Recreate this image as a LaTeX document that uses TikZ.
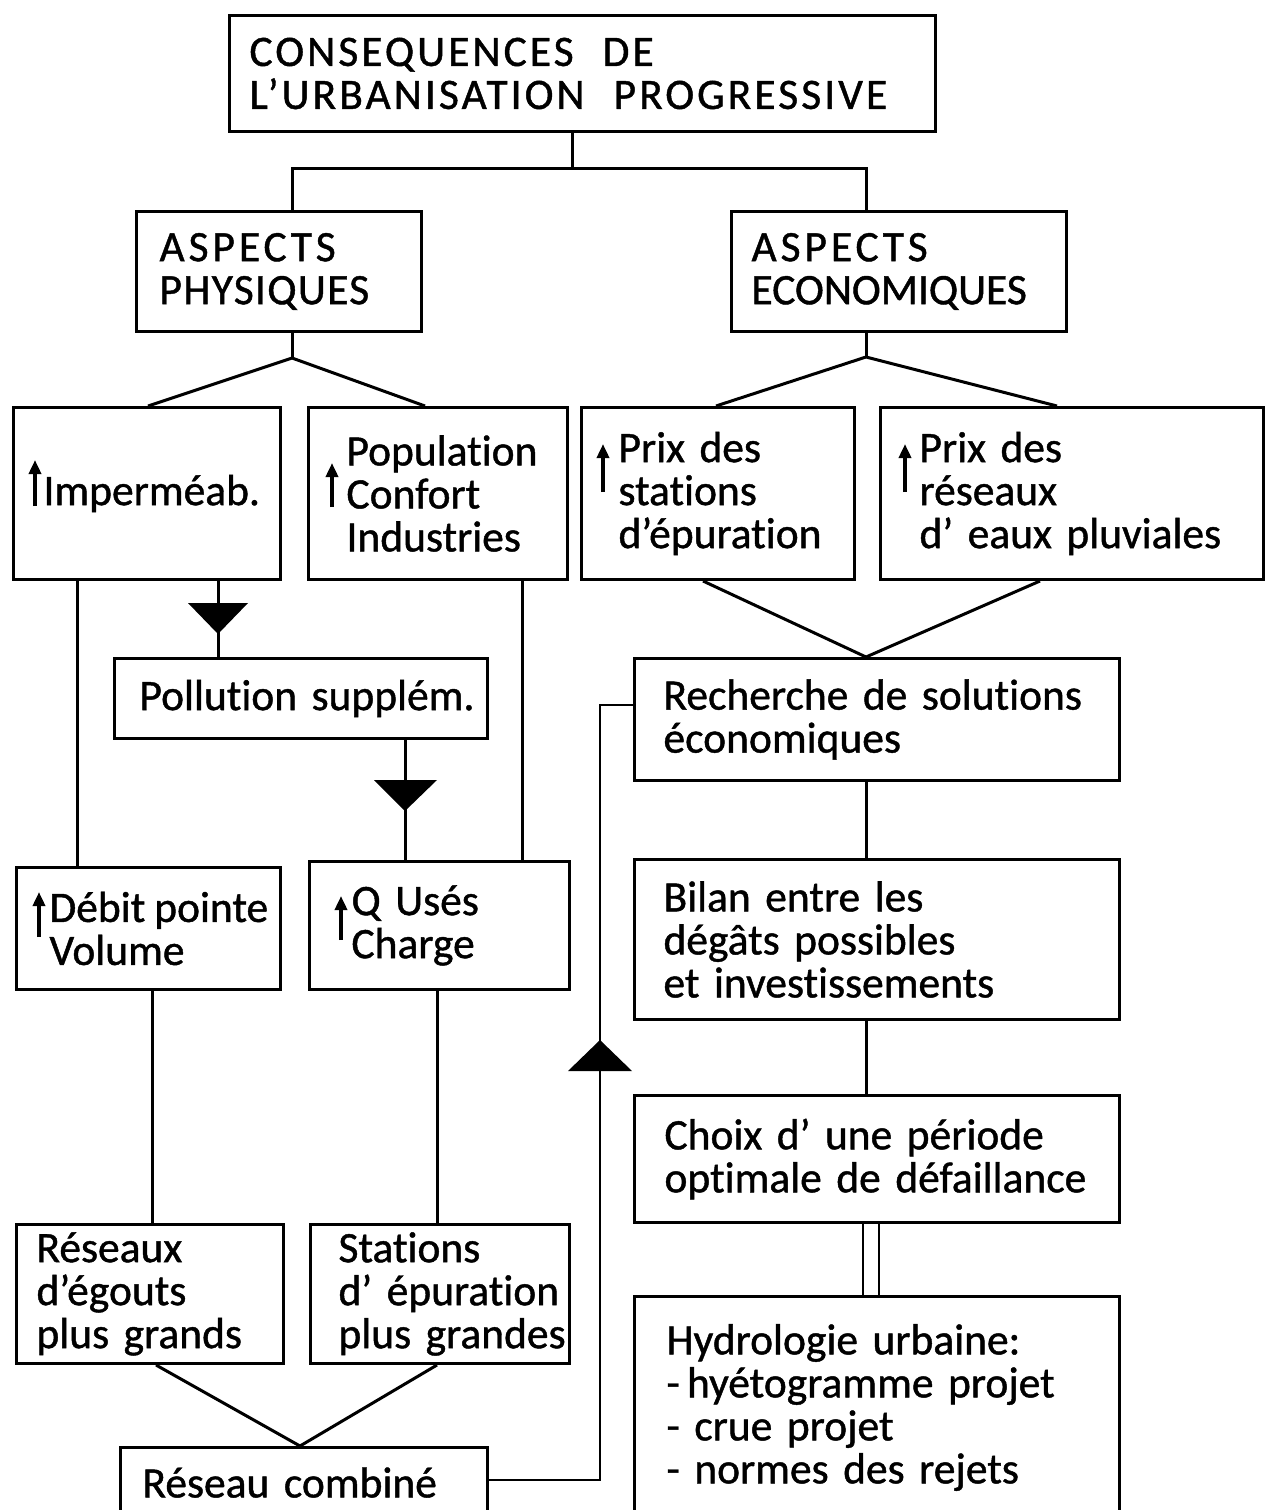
\documentclass[tikz,border=0pt]{standalone}
\usepackage{fontspec}
\setmainfont{Carlito}[WordSpace=1.4,FakeBold=1,Ligatures=NoCommon]
\usetikzlibrary{arrows.meta,calc}
\newcommand\padL[1]{\leftskip=#1pt\relax}
\begin{document}
\begin{tikzpicture}[x=1pt,y=-1pt,
  box/.style={draw, line width=3pt, anchor=north west, inner sep=0pt, align=left,
              font=\fontsize{43.5}{43}\selectfont},
  conn/.style={line width=3pt},
  upmark/.style={line width=4pt, -{Triangle[length=14pt,width=12pt]}},
  tri/.style={fill=black}]
\clip (0,0) rectangle (1271,1510);
\fill[white] (0,0) rectangle (1271,1510);

% boxes
\node[box, text width=706pt, minimum height=116pt] (top) at (228,14)
  {\padL{20}\addfontfeatures{LetterSpace=7}CONSEQUENCES~~DE\\L’URBANISATION~~PROGRESSIVE\par};
\node[box, text width=285pt, minimum height=120pt] (phys) at (135,210)
  {\padL{23}{\addfontfeatures{LetterSpace=9}ASPECTS}\\{\addfontfeatures{LetterSpace=3}PHYSIQUES}\par};
\node[box, text width=335pt, minimum height=120pt] (econ) at (730,210)
  {\padL{20}{\addfontfeatures{LetterSpace=9}ASPECTS}\\ECONOMIQUES\par};
\node[box, text width=267pt, minimum height=172pt] (imp) at (12,406)
  {\padL{30}Imperméab.\par};
\node[box, text width=259pt, minimum height=172pt] (pop) at (307,406)
  {\padL{38}Population\\Confort\\Industries\par};
\node[box, text width=273pt, minimum height=172pt] (prixS) at (580,406)
  {\padL{37}Prix~des\\stations\\d’épuration\par};
\node[box, text width=383pt, minimum height=172pt] (prixR) at (879,406)
  {\padL{39}Prix~des\\réseaux\\d’~eaux~pluviales\par};
\node[box, text width=373pt, minimum height=80pt] (poll) at (113,657)
  {\padL{25}Pollution~supplém.\par};
\node[box, text width=485pt, minimum height=122pt] (rech) at (633,657)
  {\padL{29}Recherche~de~solutions\\économiques\par};
\node[box, text width=264pt, minimum height=122pt] (debit) at (15,866)
  {\padL{33}Débit\hspace{9pt}pointe\\Volume\par};
\node[box, text width=260pt, minimum height=128pt] (qu) at (308,860)
  {\padL{42}Q~Usés\\Charge\par};
\node[box, text width=485pt, minimum height=160pt] (bilan) at (633,858)
  {\padL{29}Bilan~entre~les\\dégâts~possibles\\et~investissements\par};
\node[box, text width=485pt, minimum height=127pt] (choix) at (633,1094)
  {\padL{30}Choix~d’~une~période\\optimale~de~défaillance\par};
\node[box, text width=485pt, minimum height=222pt] (hydro) at (633,1295)
  {\padL{32}Hydrologie~urbaine:\\-\,hyétogramme~projet\\-~crue~projet\\-~normes~des~rejets\par};
\node[box, text width=267pt, minimum height=139pt] (res) at (15,1223)
  {\padL{20}Réseaux\\d’égouts\\plus~grands\par};
\node[box, text width=259pt, minimum height=139pt] (sta) at (309,1223)
  {\padL{28}Stations\\d’~épuration\\plus~grandes\par};
\node[box, text width=367pt, minimum height=70pt] (comb) at (119,1446)
  {\padL{22}Réseau~combiné\par};

% up marks inside boxes
\draw[upmark] (35,506) -- (35,460);
\draw[upmark] (332,507) -- (332,463);
\draw[upmark] (603,492) -- (603,444);
\draw[upmark] (905,492) -- (905,444);
\draw[upmark] (39,937) -- (39,892);
\draw[upmark] (341,940) -- (341,896);

% connector coordinates
\coordinate (tj) at (572,168);
\coordinate (px) at (292,0);
\coordinate (ex) at (866,0);
\coordinate (pa) at (292,358);
\coordinate (ea) at (866,357);
\coordinate (x77) at (77,0);
\coordinate (x218) at (218,0);
\coordinate (x405) at (405,0);
\coordinate (x522) at (522,0);
\coordinate (x152) at (152,0);
\coordinate (x437) at (437,0);
\coordinate (x300) at (300,0);
\coordinate (dx) at (870.5,0);
\coordinate (fx) at (600,0);
\coordinate (fy) at (0,1480);
\coordinate (ry) at (0,705);

% connectors
\draw[conn] (top.south -| tj) -- (tj);
\draw[conn] (phys.north -| px) |- (tj) -| (econ.north -| ex);
\draw[conn] (phys.south -| px) -- (pa);
\draw[conn] ($(imp.north west)+(136,0)$) -- (pa) -- ($(pop.north west)+(118,0)$);
\draw[conn] (econ.south -| ex) -- (ea);
\draw[conn] ($(prixS.north west)+(136,0)$) -- (ea) -- ($(prixR.north west)+(178,0)$);
\draw[conn] (imp.south -| x77) -- (debit.north -| x77);
\draw[conn] (imp.south -| x218) -- (poll.north -| x218);
\fill[tri] (188,603) -- (248,603) -- (218,634) -- cycle;
\draw[conn] (poll.south -| x405) -- (qu.north -| x405);
\fill[tri] (374,780) -- (437,780) -- (405,811) -- cycle;
\draw[conn] (pop.south -| x522) -- (qu.north -| x522);
\draw[conn] ($(prixS.south west)+(123,0)$) -- (rech.north -| ex) -- ($(prixR.south west)+(161,0)$);
\draw[conn] (rech.south -| ex) -- (bilan.north -| ex);
\draw[conn] (bilan.south -| ex) -- (choix.north -| ex);
\draw[line width=2pt, double, double distance=14pt] (choix.south -| dx) -- (hydro.north -| dx);
\draw[conn] (debit.south -| x152) -- (res.north -| x152);
\draw[conn] (qu.south -| x437) -- (sta.north -| x437);
\draw[conn] ($(res.south west)+(141,0)$) -- (comb.north -| x300) -- ($(sta.south west)+(128,0)$);
\draw[line width=2.5pt] (comb.east |- fy) -| (fx |- ry) -- (rech.west |- ry);
\fill[tri] (568,1071) -- (632,1071) -- (600,1040) -- cycle;
\end{tikzpicture}
\end{document}
